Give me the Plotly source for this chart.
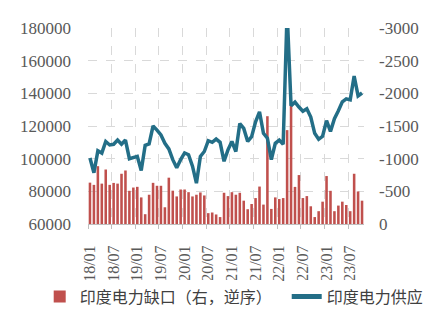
import pandas as pd
import plotly.graph_objects as go

# Monthly series, 2018/01 - 2023/10
months = pd.date_range("2018-01-01", periods=70, freq="MS").strftime("%y/%m").tolist()

# India power shortage (right axis, reversed)
power_gap = [
    -633, -599, -885, -618, -834, -599, -629, -618, -769, -819, -508, -558,
    -569, -407, -150, -448, -630, -585, -585, -256, -709, -510, -422, -528,
    -528, -487, -422, -448, -483, -437, -166, -176, -146, -106, -478, -427,
    -487, -448, -478, -357, -226, -306, -397, -573, -297, -1650, -231, -407,
    -382, -397, -1437, -1850, -568, -749, -397, -427, -271, -106, -196, -342,
    -734, -508, -196, -282, -342, -291, -196, -769, -498, -357,
]

# India power supply (left axis)
power_supply = [
    100400, 91400, 104800, 103400, 110500, 108400, 108800, 111400, 108800, 111400, 100000, 100700,
    101400, 92800, 108200, 109000, 120000, 117500, 114500, 109400, 106000, 99400, 94400, 99400,
    103500, 102400, 95400, 85000, 101400, 104400, 111000, 110000, 112000, 110000, 98400, 105400,
    110500, 104400, 121500, 118500, 110500, 113500, 122500, 128700, 115500, 112500, 99400, 109400,
    111400, 108800, 190000, 132400, 134600, 131600, 129000, 130500, 125500, 115500, 111900, 113700,
    123300, 116700, 124500, 129300, 134800, 136600, 136000, 150600, 138400, 140200,
]

gap_ticks = [0, -500, -1000, -1500, -2000, -2500, -3000]
gap_ticktext = [str(v) for v in gap_ticks]

x = list(range(len(months)))
label_idx = x[::6]
boundaries = [i - 0.5 for i in label_idx]

num_font = dict(family="Liberation Serif", size=17, color="#595959")
legend_font = dict(family="Noto Sans CJK SC", size=16, color="#404040")
grid_col = "#d9d9d9"

fig = go.Figure()
fig.add_trace(go.Bar(
    x=x, y=power_gap, name="印度电力缺口（右，逆序）",
    marker=dict(color="#C0504D", line=dict(width=0)),
    yaxis="y", legend="legend",
))
fig.add_trace(go.Scatter(
    x=x, y=power_supply, name="印度电力供应", mode="lines",
    line=dict(color="#236E87", width=3.5),
    yaxis="y2", legend="legend2",
))

fig.update_layout(
    width=441, height=325,
    margin=dict(l=88, r=74, t=28, b=98),
    paper_bgcolor="white", plot_bgcolor="white",
    bargap=0.35,
    showlegend=True,
    legend=dict(
        orientation="h", x=-0.175, xanchor="left", y=-0.37, yanchor="middle",
        font=legend_font, itemsizing="constant",
    ),
    legend2=dict(
        orientation="h", x=0.72, xanchor="left", y=-0.37, yanchor="middle",
        font=legend_font, itemsizing="constant",
    ),
    xaxis=dict(
        range=[-0.5, len(months) - 0.5],
        tickmode="array", tickvals=label_idx,
        ticktext=[months[i] for i in label_idx],
        tickangle=-90, ticks="", showgrid=False,
        tickfont=dict(family="Liberation Serif", size=16, color="#595959"),
        ticklabelstandoff=14,
        showline=True, linecolor="#bfbfbf", linewidth=1,
        minor=dict(tickmode="array", tickvals=boundaries, showgrid=True,
                   gridcolor=grid_col, griddash="dash", gridwidth=1,
                   ticks="outside", ticklen=4, tickcolor="#bfbfbf"),
        zeroline=False,
    ),
    yaxis=dict(
        side="right", range=[0, -3000],
        tickmode="array", tickvals=gap_ticks, ticktext=gap_ticktext,
        showgrid=True, gridcolor=grid_col, griddash="dash", gridwidth=1,
        zeroline=False, showline=False, ticks="",
        tickfont=num_font, ticklabelstandoff=14,
    ),
    yaxis2=dict(
        side="left", overlaying="y", range=[60000, 180000], dtick=20000,
        tickformat="d", showgrid=False, zeroline=False, showline=False, ticks="",
        tickfont=num_font, ticklabelstandoff=16,
    ),
)

fig.write_html("out.html")
